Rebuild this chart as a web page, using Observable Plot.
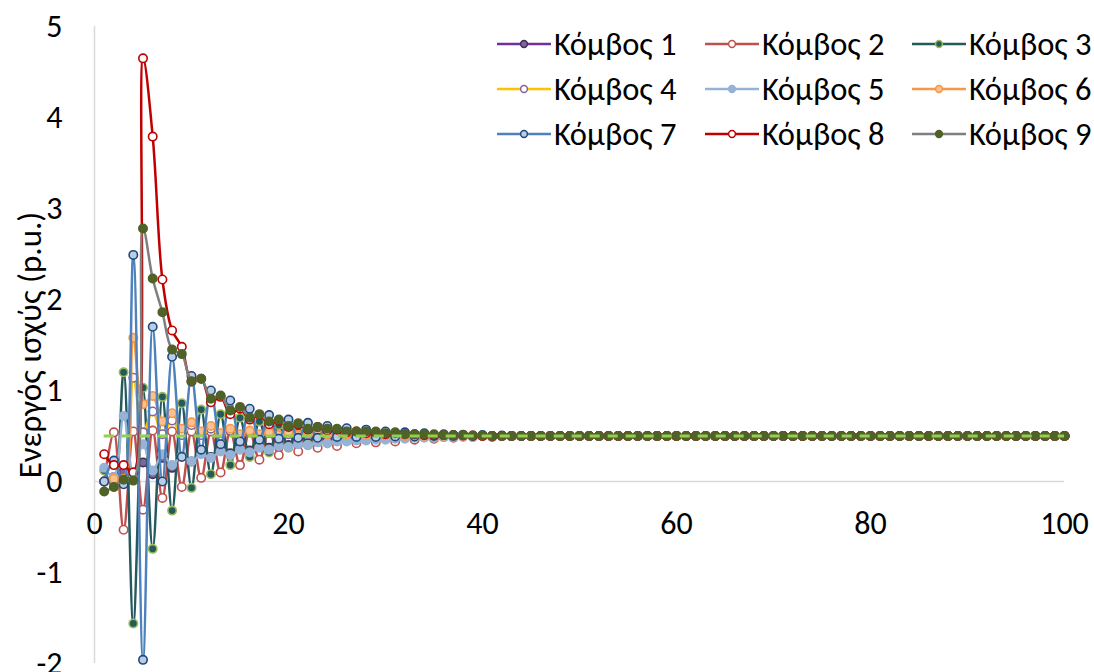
<!DOCTYPE html>
<html>
<head>
<meta charset="utf-8">
<script src="https://cdn.jsdelivr.net/npm/d3@7"></script>
<script src="https://cdn.jsdelivr.net/npm/@observablehq/plot@0.6"></script>
<style>
  body { margin: 0; background: #fff; }
  #chart { position: relative; width: 1094px; height: 672px; font-family: Calibri, Carlito, "Open Sans", sans-serif; }
  #legend { position: absolute; left: 0; top: 0; }
  .item { position: absolute; display: flex; align-items: center; height: 40px; font-size: 32.5px; color: #000; white-space: nowrap; }
  .item svg { margin-right: 3px; }
</style>
</head>
<body>
<div id="chart"><div id="legend"></div></div>
<script>
// Active power per node over the simulation steps 1..100
const names = ["Κόμβος 1", "Κόμβος 2", "Κόμβος 3", "Κόμβος 4", "Κόμβος 5", "Κόμβος 6", "Κόμβος 7", "Κόμβος 8", "Κόμβος 9"];

const node1 = [
  0.00, 0.05, 0.11, 0.10, 0.21, 0.08, 0.26, 0.15, 0.28, 0.22,
  0.32, 0.27, 0.35, 0.31, 0.38, 0.34, 0.40, 0.37, 0.42, 0.40,
  0.43, 0.42, 0.45, 0.44, 0.46, 0.45, 0.47, 0.46, 0.47, 0.47,
  0.48, 0.48, 0.49, 0.49, 0.49, 0.49, 0.50, 0.50, 0.50, 0.50,
  0.50, 0.50, 0.50, 0.50, 0.50, 0.50, 0.50, 0.50, 0.50, 0.50,
  0.50, 0.50, 0.50, 0.50, 0.50, 0.50, 0.50, 0.50, 0.50, 0.50,
  0.50, 0.50, 0.50, 0.50, 0.50, 0.50, 0.50, 0.50, 0.50, 0.50,
  0.50, 0.50, 0.50, 0.50, 0.50, 0.50, 0.50, 0.50, 0.50, 0.50,
  0.50, 0.50, 0.50, 0.50, 0.50, 0.50, 0.50, 0.50, 0.50, 0.50,
  0.50, 0.50, 0.50, 0.50, 0.50, 0.50, 0.50, 0.50, 0.50, 0.50
];
const node2 = [
  0.00, 0.54, -0.53, 0.55, -0.31, 0.56, -0.18, 0.55, -0.06, 0.55,
  0.04, 0.55, 0.10, 0.55, 0.18, 0.55, 0.24, 0.55, 0.29, 0.54,
  0.33, 0.54, 0.37, 0.54, 0.39, 0.53, 0.42, 0.53, 0.43, 0.52,
  0.44, 0.52, 0.46, 0.51, 0.47, 0.51, 0.48, 0.50, 0.49, 0.50,
  0.49, 0.50, 0.50, 0.50, 0.50, 0.50, 0.50, 0.50, 0.50, 0.50,
  0.50, 0.50, 0.50, 0.50, 0.50, 0.50, 0.50, 0.50, 0.50, 0.50,
  0.50, 0.50, 0.50, 0.50, 0.50, 0.50, 0.50, 0.50, 0.50, 0.50,
  0.50, 0.50, 0.50, 0.50, 0.50, 0.50, 0.50, 0.50, 0.50, 0.50,
  0.50, 0.50, 0.50, 0.50, 0.50, 0.50, 0.50, 0.50, 0.50, 0.50,
  0.50, 0.50, 0.50, 0.50, 0.50, 0.50, 0.50, 0.50, 0.50, 0.50
];
const node3 = [
  0.12, -0.06, 1.20, -1.56, 1.03, -0.74, 0.93, -0.32, 0.86, -0.07,
  0.79, 0.08, 0.74, 0.18, 0.70, 0.27, 0.66, 0.32, 0.62, 0.37,
  0.60, 0.40, 0.58, 0.42, 0.56, 0.45, 0.55, 0.46, 0.54, 0.47,
  0.53, 0.48, 0.52, 0.49, 0.51, 0.49, 0.51, 0.50, 0.50, 0.50,
  0.50, 0.50, 0.50, 0.50, 0.50, 0.50, 0.50, 0.50, 0.50, 0.50,
  0.50, 0.50, 0.50, 0.50, 0.50, 0.50, 0.50, 0.50, 0.50, 0.50,
  0.50, 0.50, 0.50, 0.50, 0.50, 0.50, 0.50, 0.50, 0.50, 0.50,
  0.50, 0.50, 0.50, 0.50, 0.50, 0.50, 0.50, 0.50, 0.50, 0.50,
  0.50, 0.50, 0.50, 0.50, 0.50, 0.50, 0.50, 0.50, 0.50, 0.50,
  0.50, 0.50, 0.50, 0.50, 0.50, 0.50, 0.50, 0.50, 0.50, 0.50
];
const node4 = [
  0.00, 0.00, 0.01, 1.14, 0.54, 0.77, 0.52, 0.67, 0.51, 0.62,
  0.51, 0.58, 0.50, 0.56, 0.50, 0.54, 0.50, 0.53, 0.50, 0.52,
  0.50, 0.52, 0.50, 0.51, 0.50, 0.51, 0.50, 0.50, 0.50, 0.50,
  0.50, 0.50, 0.50, 0.50, 0.50, 0.50, 0.50, 0.50, 0.50, 0.50,
  0.50, 0.50, 0.50, 0.50, 0.50, 0.50, 0.50, 0.50, 0.50, 0.50,
  0.50, 0.50, 0.50, 0.50, 0.50, 0.50, 0.50, 0.50, 0.50, 0.50,
  0.50, 0.50, 0.50, 0.50, 0.50, 0.50, 0.50, 0.50, 0.50, 0.50,
  0.50, 0.50, 0.50, 0.50, 0.50, 0.50, 0.50, 0.50, 0.50, 0.50,
  0.50, 0.50, 0.50, 0.50, 0.50, 0.50, 0.50, 0.50, 0.50, 0.50,
  0.50, 0.50, 0.50, 0.50, 0.50, 0.50, 0.50, 0.50, 0.50, 0.50
];
const node5 = [
  0.15, 0.05, 0.72, 0.08, 0.41, 0.12, 0.30, 0.18, 0.28, 0.22,
  0.30, 0.26, 0.33, 0.29, 0.35, 0.32, 0.37, 0.35, 0.39, 0.38,
  0.41, 0.40, 0.43, 0.42, 0.44, 0.44, 0.45, 0.45, 0.46, 0.46,
  0.47, 0.47, 0.48, 0.48, 0.48, 0.49, 0.49, 0.49, 0.49, 0.50,
  0.50, 0.50, 0.50, 0.50, 0.50, 0.50, 0.50, 0.50, 0.50, 0.50,
  0.50, 0.50, 0.50, 0.50, 0.50, 0.50, 0.50, 0.50, 0.50, 0.50,
  0.50, 0.50, 0.50, 0.50, 0.50, 0.50, 0.50, 0.50, 0.50, 0.50,
  0.50, 0.50, 0.50, 0.50, 0.50, 0.50, 0.50, 0.50, 0.50, 0.50,
  0.50, 0.50, 0.50, 0.50, 0.50, 0.50, 0.50, 0.50, 0.50, 0.50,
  0.50, 0.50, 0.50, 0.50, 0.50, 0.50, 0.50, 0.50, 0.50, 0.50
];
const node6 = [
  0.00, 0.03, 0.03, 1.58, 0.85, 0.94, 0.66, 0.75, 0.58, 0.65,
  0.55, 0.61, 0.53, 0.58, 0.52, 0.56, 0.52, 0.54, 0.51, 0.54,
  0.51, 0.53, 0.51, 0.52, 0.50, 0.52, 0.50, 0.51, 0.50, 0.51,
  0.50, 0.50, 0.50, 0.50, 0.50, 0.50, 0.50, 0.50, 0.50, 0.50,
  0.50, 0.50, 0.50, 0.50, 0.50, 0.50, 0.50, 0.50, 0.50, 0.50,
  0.50, 0.50, 0.50, 0.50, 0.50, 0.50, 0.50, 0.50, 0.50, 0.50,
  0.50, 0.50, 0.50, 0.50, 0.50, 0.50, 0.50, 0.50, 0.50, 0.50,
  0.50, 0.50, 0.50, 0.50, 0.50, 0.50, 0.50, 0.50, 0.50, 0.50,
  0.50, 0.50, 0.50, 0.50, 0.50, 0.50, 0.50, 0.50, 0.50, 0.50,
  0.50, 0.50, 0.50, 0.50, 0.50, 0.50, 0.50, 0.50, 0.50, 0.50
];
const node7 = [
  0.00, 0.23, -0.03, 2.49, -1.96, 1.70, 0.00, 1.37, 0.27, 1.16,
  0.35, 1.00, 0.41, 0.89, 0.44, 0.80, 0.46, 0.73, 0.47, 0.68,
  0.48, 0.645, 0.48, 0.61, 0.49, 0.585, 0.49, 0.57, 0.49, 0.55,
  0.495, 0.54, 0.495, 0.53, 0.50, 0.52, 0.50, 0.515, 0.50, 0.51,
  0.50, 0.505, 0.50, 0.50, 0.50, 0.50, 0.50, 0.50, 0.50, 0.50,
  0.50, 0.50, 0.50, 0.50, 0.50, 0.50, 0.50, 0.50, 0.50, 0.50,
  0.50, 0.50, 0.50, 0.50, 0.50, 0.50, 0.50, 0.50, 0.50, 0.50,
  0.50, 0.50, 0.50, 0.50, 0.50, 0.50, 0.50, 0.50, 0.50, 0.50,
  0.50, 0.50, 0.50, 0.50, 0.50, 0.50, 0.50, 0.50, 0.50, 0.50,
  0.50, 0.50, 0.50, 0.50, 0.50, 0.50, 0.50, 0.50, 0.50, 0.50
];
const node8 = [
  0.30, 0.18, 0.18, 0.10, 4.65, 3.79, 2.22, 1.66, 1.48, 1.10,
  1.13, 0.87, 0.93, 0.74, 0.80, 0.68, 0.73, 0.63, 0.67, 0.60,
  0.63, 0.57, 0.60, 0.56, 0.57, 0.54, 0.55, 0.53, 0.54, 0.52,
  0.53, 0.52, 0.52, 0.51, 0.51, 0.51, 0.51, 0.505, 0.505, 0.50,
  0.50, 0.50, 0.50, 0.50, 0.50, 0.50, 0.50, 0.50, 0.50, 0.50,
  0.50, 0.50, 0.50, 0.50, 0.50, 0.50, 0.50, 0.50, 0.50, 0.50,
  0.50, 0.50, 0.50, 0.50, 0.50, 0.50, 0.50, 0.50, 0.50, 0.50,
  0.50, 0.50, 0.50, 0.50, 0.50, 0.50, 0.50, 0.50, 0.50, 0.50,
  0.50, 0.50, 0.50, 0.50, 0.50, 0.50, 0.50, 0.50, 0.50, 0.50,
  0.50, 0.50, 0.50, 0.50, 0.50, 0.50, 0.50, 0.50, 0.50, 0.50
];
const node9 = [
  -0.11, -0.06, 0.02, 0.01, 2.78, 2.23, 1.86, 1.45, 1.40, 1.10,
  1.13, 0.91, 0.945, 0.78, 0.82, 0.70, 0.74, 0.66, 0.68, 0.61,
  0.64, 0.58, 0.60, 0.58, 0.58, 0.55, 0.55, 0.55, 0.55, 0.53,
  0.54, 0.52, 0.52, 0.52, 0.52, 0.51, 0.51, 0.51, 0.505, 0.505,
  0.50, 0.50, 0.50, 0.50, 0.50, 0.50, 0.50, 0.50, 0.50, 0.50,
  0.50, 0.50, 0.50, 0.50, 0.50, 0.50, 0.50, 0.50, 0.50, 0.50,
  0.50, 0.50, 0.50, 0.50, 0.50, 0.50, 0.50, 0.50, 0.50, 0.50,
  0.50, 0.50, 0.50, 0.50, 0.50, 0.50, 0.50, 0.50, 0.50, 0.50,
  0.50, 0.50, 0.50, 0.50, 0.50, 0.50, 0.50, 0.50, 0.50, 0.50,
  0.50, 0.50, 0.50, 0.50, 0.50, 0.50, 0.50, 0.50, 0.50, 0.50
];
const series = [node1, node2, node3, node4, node5, node6, node7, node8, node9];

// Power setpoint (p.u.), drawn as a dashed reference line
const setpoint = 0.5;

const xTicks = [0, 20, 40, 60, 80, 100];
const yTicks = [-2, -1, 0, 1, 2, 3, 4, 5];
const yLabel = "Ενεργός ισχύς (p.u.)";

// Line colour, marker outline and marker fill for each node
const lineColors   = ["#7030A0", "#C0504D", "#24595E", "#FFC000", "#95B3D7", "#F79646", "#4F81BD", "#C00000", "#7F7F7F"];
const markerStroke = ["#3F3151", "#C0504D", "#9BBB59", "#8064A2", "#95B3D7", "#F79646", "#1F497D", "#C00000", "#4F6228"];
const markerFill   = ["#8064A2", "#FFFFFF", "#24595E", "#FFFFFF", "#95B3D7", "#FAC090", "#B9CDE5", "#FFFFFF", "#4F6228"];

const rows = series.map((values, k) =>
  values.map((value, i) => ({step: i + 1, value, node: names[k]}))
);

const seriesMarks = rows.flatMap((data, k) => [
  Plot.line(data, {x: "step", y: "value", stroke: lineColors[k], strokeWidth: 2.5, curve: "catmull-rom"}),
  Plot.dot(data, {x: "step", y: "value", r: 4.2, fill: markerFill[k], stroke: markerStroke[k], strokeWidth: 1.6})
]);

const font = 'Calibri, Carlito, "Open Sans", sans-serif';

const chart = Plot.plot({
  width: 1094,
  height: 672,
  marginLeft: 94,
  marginRight: 30,
  marginTop: 26,
  marginBottom: 9,
  style: {fontFamily: font, background: "#fff", color: "#000"},
  x: {domain: [0, 100], axis: null},
  y: {domain: [-2, 5], axis: null},
  marks: [
    Plot.axisY({ticks: yTicks, tickSize: 0, tickPadding: 32, fontSize: 32, label: null, tickFormat: d => String(d)}),
    Plot.ruleX([0], {y1: -2, y2: 5, stroke: "#D9D9D9", strokeWidth: 1.5}),
    Plot.ruleY([0], {x1: 0, x2: 100, stroke: "#D9D9D9", strokeWidth: 1.5}),
    Plot.text(xTicks, {x: d => d, y: 0, dy: 42, text: d => String(d), fontSize: 32, fill: "#000"}),
    Plot.text([yLabel], {frameAnchor: "left", dx: -64, rotate: -90, textAnchor: "middle", fontSize: 33, fill: "#000", text: d => d}),
    ...seriesMarks,
    Plot.ruleY([setpoint], {x1: 1, x2: 100, stroke: "#92D050", strokeWidth: 3, strokeDasharray: "10,8"})
  ]
});

const holder = document.getElementById("chart");
holder.insertBefore(chart, holder.firstChild);

// Legend: three columns, three rows
const legend = document.getElementById("legend");
const colX = [497, 705, 912];
const rowY = [24, 69, 114];
names.forEach((name, k) => {
  const item = document.createElement("div");
  item.className = "item";
  item.style.left = colX[k % 3] + "px";
  item.style.top = rowY[Math.floor(k / 3)] + "px";
  item.innerHTML =
    `<svg width="54" height="20"><line x1="0" y1="10" x2="54" y2="10" stroke="${lineColors[k]}" stroke-width="2.5"/>` +
    `<circle cx="27" cy="10" r="3.4" fill="${markerFill[k]}" stroke="${markerStroke[k]}" stroke-width="1.5"/></svg>` +
    `<span>${name}</span>`;
  legend.appendChild(item);
});
</script>
</body>
</html>
